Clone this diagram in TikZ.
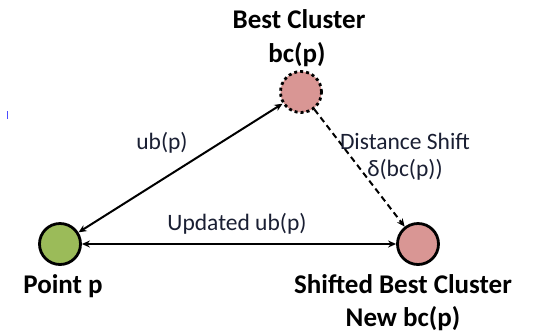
\documentclass[tikz,border=0pt]{standalone}
\usepackage{fontspec}
\setmainfont{Carlito}
\usetikzlibrary{arrows.meta}
\definecolor{ptgreen}{HTML}{9BBB59}
\definecolor{clred}{HTML}{D99694}
\definecolor{lbl}{HTML}{1A1F33}
\begin{document}
\begin{tikzpicture}[x=1pt,y=-1pt,
  pt/.style={circle,draw=black,line width=2.8pt,minimum size=41pt,inner sep=0pt},
  title/.style={font=\fontsize{27}{30}\selectfont\bfseries,text=black,align=center},
  edgelbl/.style={font=\fontsize{23.5}{26}\selectfont,text=lbl,align=center},
  link/.style={line width=2pt,{Stealth[length=8pt,width=7pt]}-{Stealth[length=8pt,width=7pt]}},
  shiftlink/.style={line width=2pt,dash pattern=on 6pt off 4pt,-{Stealth[length=8pt,width=7pt]}}
]
\useasboundingbox (0,0) rectangle (538,333);
\node[pt,fill=ptgreen] (p) at (60,244) {};
\node[pt,fill=clred,dash pattern=on 3pt off 3pt] (bc) at (301,92) {};
\node[pt,fill=clred] (nbc) at (418,244) {};
\draw[link] (p) -- (bc);
\draw[link] (p) -- (nbc);
\draw[shiftlink] (bc) -- (nbc);
\node[title] (t1) at (299,19) {Best Cluster};
\node[title] (t2) at (297,55) {bc(p)};
\node[title] (t3) at (63,286) {Point p};
\node[title] (t4) at (403,284) {Shifted Best Cluster};
\node[title] (t5) at (403,319) {New bc(p)};
\node[edgelbl] (l1) at (162,143) {ub(p)};
\node[edgelbl] (l2) at (405,141) {Distance Shift};
\node[edgelbl] (l3) at (405,170) {δ(bc(p))};
\node[edgelbl] (l4) at (237,224) {Updated ub(p)};
\draw[blue!70,line width=1pt] (7,111) -- (7,119);
\end{tikzpicture}
\end{document}
